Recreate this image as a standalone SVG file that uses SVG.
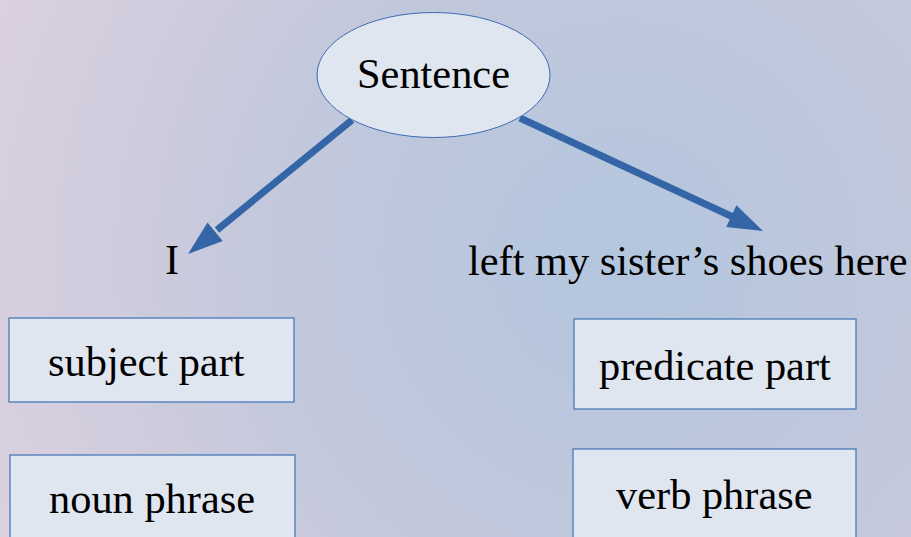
<svg xmlns="http://www.w3.org/2000/svg" width="911" height="537" viewBox="0 0 911 537">
<style>
.t{font-family:"Liberation Serif","Times New Roman",serif;font-size:42.4px;fill:#000}
.box{fill:#dfe6f0;stroke:#4a78b8;stroke-width:1.3}
.ln{stroke:#3465a7;stroke-width:7;fill:none}
.hd{fill:#3465a7}
</style>
<defs>
<radialGradient id="bg" gradientUnits="userSpaceOnUse" cx="620" cy="260" r="700">
<stop offset="0" stop-color="#b3c6de"/>
<stop offset="0.5" stop-color="#c3c8dc"/>
<stop offset="1" stop-color="#ddd1df"/>
</radialGradient>
</defs>
<rect x="0" y="0" width="911" height="537" fill="url(#bg)"/>
<g id="connectors">
<line class="ln" x1="352" y1="120" x2="217" y2="230"/>
<polygon class="hd" points="188,254 207.5,222.5 222.7,241.1"/>
<line class="ln" x1="520" y1="118" x2="733" y2="217"/>
<polygon class="hd" points="763,231 736.4,205.3 726.2,227.1"/>
</g>
<g id="sentence">
<ellipse cx="433.5" cy="75" rx="116.5" ry="62.5" fill="#dfe6f0" stroke="#3e6bb0" stroke-width="1"/>
<text class="t" x="433.5" y="88" text-anchor="middle">Sentence</text>
</g>
<g id="subject">
<text class="t" x="172" y="274" text-anchor="middle">I</text>
</g>
<g id="predicate">
<text class="t" x="468" y="275">left my sister’s shoes here</text>
</g>
<g id="subject-part">
<rect class="box" x="9" y="318" width="285" height="84"/>
<text class="t" x="48" y="376">subject part</text>
</g>
<g id="noun-phrase">
<rect class="box" x="10" y="455" width="285" height="95"/>
<text class="t" x="49" y="513">noun phrase</text>
</g>
<g id="predicate-part">
<rect class="box" x="574" y="319" width="282" height="90"/>
<text class="t" x="599" y="380">predicate part</text>
</g>
<g id="verb-phrase">
<rect class="box" x="573" y="449" width="283" height="100"/>
<text class="t" x="616" y="509">verb phrase</text>
</g>
</svg>
